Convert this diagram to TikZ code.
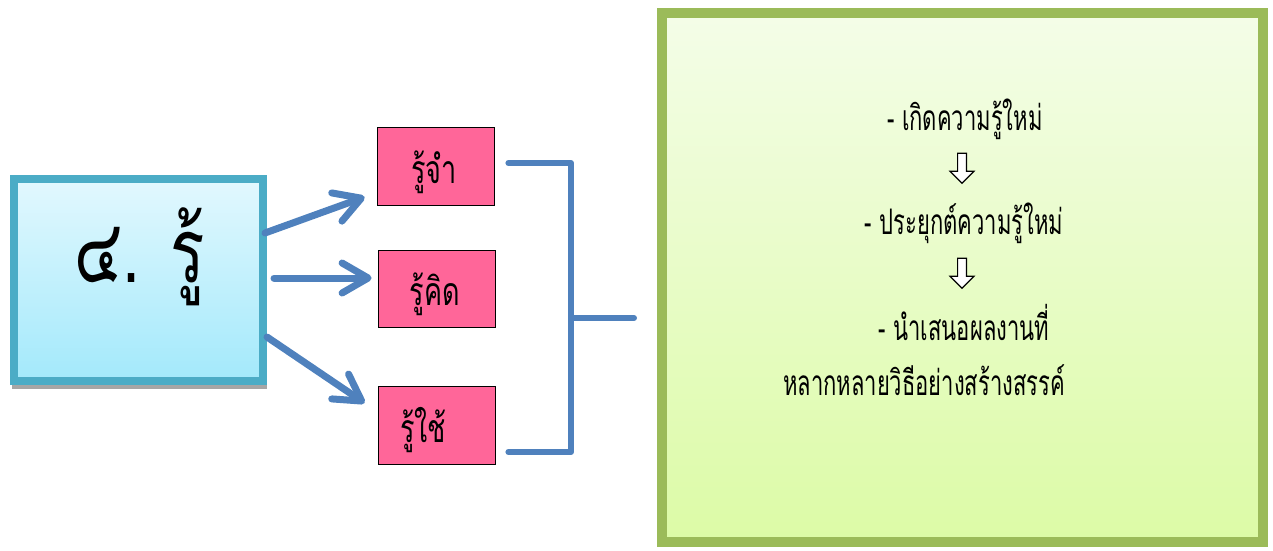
\documentclass[tikz,border=0pt]{standalone}
\usepackage{fontspec}
\usepackage{graphicx}
\newfontfamily\thaifont[Script=Thai]{Loma}
\usetikzlibrary{arrows.meta,shapes.arrows}
\definecolor{cyanb}{HTML}{4BACC6}
\definecolor{cyantop}{HTML}{E2F8FE}
\definecolor{cyanbot}{HTML}{A3E9FB}
\definecolor{pinkf}{HTML}{FF6699}
\definecolor{blueln}{HTML}{4F81BD}
\definecolor{greenb}{HTML}{9BBB59}
\definecolor{greentop}{HTML}{F4FDE8}
\definecolor{greenbot}{HTML}{DCFBA6}
\newcommand{\tall}[2]{\scalebox{1}[#1]{#2}}
\tikzset{
  pinkbox/.style={draw=black, line width=0.8pt, fill=pinkf, minimum width=117pt, minimum height=78pt, inner sep=0pt},
  pinktext/.style={font=\thaifont\fontsize{27}{30}\selectfont, inner sep=0pt, anchor=base},
  bluearrow/.style={draw=blueln, line width=7pt, line cap=round, -{Straight Barb[length=26pt,width=30pt,round]}},
  bracket/.style={draw=blueln, line width=6pt, line cap=round, line join=round},
  greentext/.style={font=\thaifont\fontsize{22}{24}\selectfont, inner sep=0pt, anchor=base},
  bigtext/.style={font=\thaifont\fontsize{64}{70}\selectfont, inner sep=0pt, anchor=base west},
  downarrow/.style={shape=single arrow, draw=black, fill=white, line width=1.1pt, shape border rotate=270, minimum height=30pt, minimum width=24pt, single arrow head extend=6pt, single arrow tip angle=90, inner sep=3pt}
}
\begin{document}
\begin{tikzpicture}[x=1pt,y=-1pt]
\useasboundingbox (0,0) rectangle (1273,550);
% shadow of left box
\fill[gray!70] (12,384) rectangle (267,389);
\node[draw=cyanb, line width=8pt, top color=cyantop, bottom color=cyanbot, minimum width=249pt, minimum height=202pt, inner sep=0pt] (L) at (138.5,280) {};
\node[bigtext] (Ln) at (74,282) {\tall{1.4}{๔.}};
\node[bigtext] (Lr) at (170,282) {\tall{1.4}{รู้}};
% pink boxes
\node[pinkbox] (P1) at (435.5,166) {};
\node[pinkbox, minimum height=77pt] (P2) at (436.5,288.5) {};
\node[pinkbox] (P3) at (436.5,425) {};
\node[pinktext] (P1t) at (434,183) {\tall{1.45}{รู้จำ}};
\node[pinktext] (P2t) at (435,305) {\tall{1.45}{รู้คิด}};
\node[pinktext] (P3t) at (423,442) {\tall{1.45}{รู้ใช้}};
% arrows
\draw[bluearrow] ([xshift=-2pt,yshift=47pt]L.east) -- ([xshift=-12pt,yshift=-31pt]P1.west);
\draw[bluearrow] ([xshift=7pt,yshift=2pt]L.east) -- ([xshift=-6pt,yshift=10.5pt]P2.west);
\draw[bluearrow] ([xshift=0pt,yshift=-57pt]L.east) -- ([xshift=-13pt,yshift=22pt]P3.west);
% bracket
\coordinate (b1) at ([xshift=14pt,yshift=3pt]P1.east);
\coordinate (b3) at ([xshift=13pt,yshift=-27pt]P3.east);
\coordinate (bm) at (571,318);
\draw[bracket] (b1) -- (571,163) -- (571,452) -- (b3);
% green box
\node[draw=greenb, line width=10pt, top color=greentop, bottom color=greenbot, minimum width=601pt, minimum height=529pt, inner sep=0pt] (G) at (962.5,277.5) {};
\coordinate (gm) at (634,318);
\draw[bracket] (bm) -- (gm);
% texts
\node[greentext] (t1) at (965,130) {\tall{1.6}{- เกิดความรู้ใหม่}};
\node[downarrow] (d1) at (962,166) {};
\node[greentext] (t2) at (964,234) {\tall{1.6}{- ประยุกต์ความรู้ใหม่}};
\node[downarrow] (d2) at (962,271) {};
\node[greentext] (t3) at (964,340) {\tall{1.6}{- นำเสนอผลงานที่}};
\node[greentext] (t4) at (924,395) {\tall{1.6}{หลากหลายวิธีอย่างสร้างสรรค์}};
\end{tikzpicture}
\end{document}
